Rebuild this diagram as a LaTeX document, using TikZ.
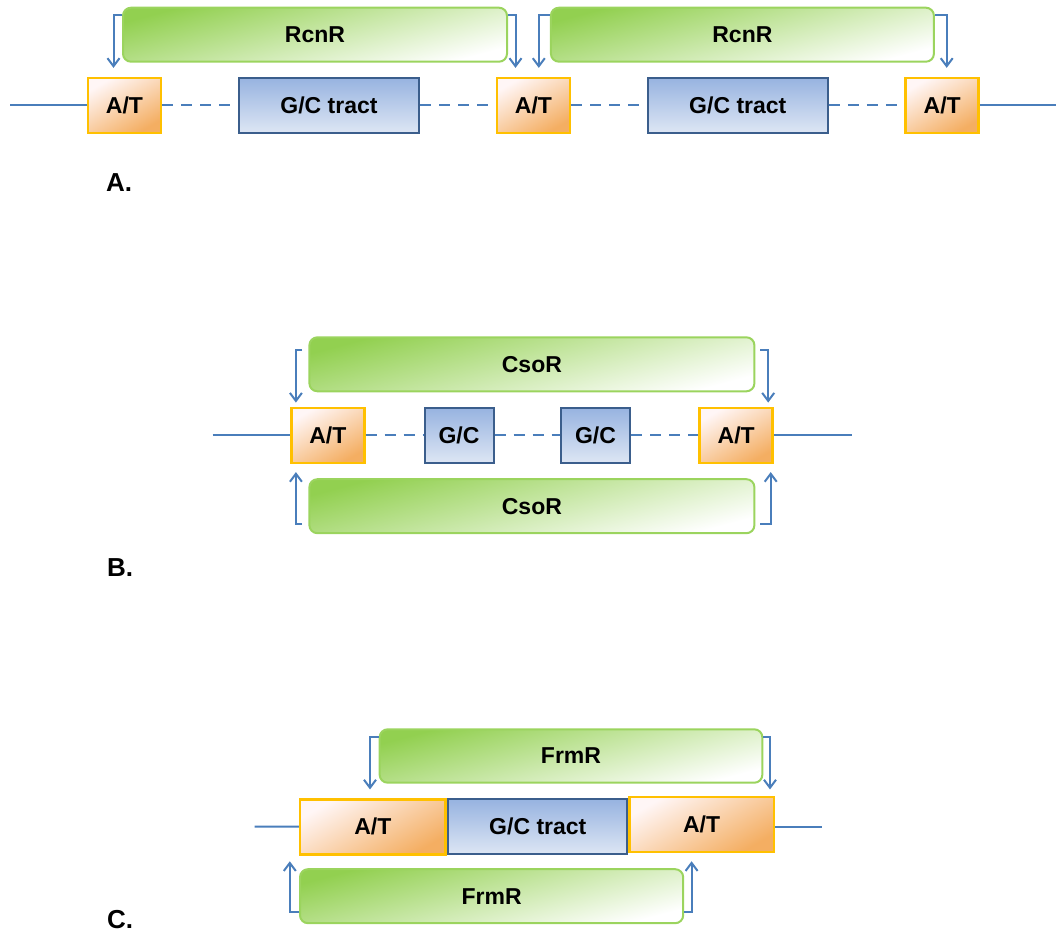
\documentclass[tikz,border=0pt]{standalone}
\usepackage{fontspec}
\setmainfont{Liberation Sans}
\usetikzlibrary{arrows.meta, positioning}

\definecolor{grnfill}{HTML}{92D050}
\definecolor{grnline}{HTML}{9BD45E}
\definecolor{orgfill}{HTML}{F4AE62}
\definecolor{orgpale}{HTML}{FFF6F6}
\definecolor{orgline}{HTML}{FFC000}
\definecolor{blutop}{HTML}{97B3E0}
\definecolor{blubot}{HTML}{DDE6F4}
\definecolor{bluline}{HTML}{3B5E8C}
\definecolor{dnaline}{HTML}{4A7EBB}

\begin{document}
\begin{tikzpicture}[
  x=1pt, y=-1pt,
  every node/.style={font=\fontsize{23}{27}\selectfont\bfseries, inner sep=0pt},
  protein/.style={draw=grnline, line width=2pt, rounded corners=8pt,
    top color=grnfill, bottom color=white, shading angle=15, minimum height=54pt},
  atbox/.style={draw=orgline, line width=2.5pt, top color=orgpale,
    bottom color=orgfill, shading angle=30, minimum width=73pt, minimum height=55pt},
  gcbox/.style={draw=bluline, line width=2pt, top color=blutop,
    bottom color=blubot, minimum height=55pt},
  dna/.style={draw=dnaline, line width=2pt},
  spacer/.style={dna, dash pattern=on 11pt off 8pt},
  bind/.style={draw=dnaline, line width=2pt, -{Straight Barb[length=8pt,width=12pt]}},
  panel/.style={font=\fontsize{26}{30}\selectfont\bfseries}
]
\useasboundingbox (0,0) rectangle (1056,933);

% PANEL A: two RcnR sites
\node[protein, minimum width=384pt] (rcn1a) at (315,34.7) {RcnR};
\node[protein, minimum width=383pt] (rcn2a) at (742.4,34.7) {RcnR};
\node[atbox] (at1a) at (124.5,105.3) {A/T};
\node[gcbox, minimum width=180pt] (gc1a) at (329,105.3) {G/C tract};
\node[atbox] (at2a) at (533.5,105.3) {A/T};
\node[gcbox, minimum width=180pt] (gc2a) at (737.8,105.3) {G/C tract};
\node[atbox] (at3a) at (942.2,105.3) {A/T};
\coordinate (l0a) at (10,105.3);
\coordinate (r0a) at (1056,105.3);

\draw[dna] (l0a) -- (at1a);
\draw[spacer] (at1a) -- (gc1a);
\draw[spacer] (gc1a) -- (at2a);
\draw[spacer] (at2a) -- (gc2a);
\draw[spacer] (gc2a) -- (at3a);
\draw[dna] (at3a) -- (r0a);

\draw[bind] ([yshift=-8.4pt]rcn1a.north west) -| ([xshift=-11pt,yshift=8.7pt]at1a.north);
\draw[bind] ([yshift=-8.4pt]rcn1a.north east) -| ([xshift=-18pt,yshift=8.7pt]at2a.north);
\draw[bind] ([yshift=-8.4pt]rcn2a.north west) -| ([xshift=5.3pt,yshift=8.7pt]at2a.north);
\draw[bind] ([yshift=-8.4pt]rcn2a.north east) -| ([xshift=4.5pt,yshift=8.7pt]at3a.north);

\node[panel] (lbla) at (119,183) {A.};

% PANEL B: CsoR on both strands
\node[protein, minimum width=445pt] (cso1b) at (531.9,364.3) {CsoR};
\node[protein, minimum width=445pt] (cso2b) at (531.9,506.2) {CsoR};
\node[atbox] (at1b) at (327.9,435.3) {A/T};
\node[gcbox, minimum width=69pt] (gc1b) at (459,435.3) {G/C};
\node[gcbox, minimum width=69pt] (gc2b) at (595.5,435.3) {G/C};
\node[atbox] (at2b) at (736.2,435.3) {A/T};
\coordinate (l0b) at (212.6,435.3);
\coordinate (r0b) at (852,435.3);

\draw[dna] (l0b) -- (at1b);
\draw[spacer] (at1b) -- (gc1b);
\draw[spacer] (gc1b) -- (gc2b);
\draw[spacer] (gc2b) -- (at2b);
\draw[dna] (at2b) -- (r0b);

\draw[bind] ([xshift=-6.4pt,yshift=-14pt]cso1b.north west) -| ([xshift=-32pt,yshift=4pt]at1b.north);
\draw[bind] ([xshift=4.7pt,yshift=-14pt]cso1b.north east) -| ([xshift=32pt,yshift=4pt]at2b.north);
\draw[bind] ([xshift=-6.4pt,yshift=10.6pt]cso2b.south west) -| ([xshift=-32pt,yshift=-8pt]at1b.south);
\draw[bind] ([xshift=4.7pt,yshift=10.6pt]cso2b.south east) -| ([xshift=34.5pt,yshift=-8pt]at2b.south);

\node[panel] (lblb) at (120,567.7) {B.};

% PANEL C: FrmR, staggered
\node[protein, minimum width=382.7pt, minimum height=53.4pt] (frm1c) at (571,756) {FrmR};
\node[protein, minimum width=383.2pt] (frm2c) at (491.6,896.2) {FrmR};
\node[atbox, minimum width=145.5pt] (at1c) at (372.8,826.8) {A/T};
\node[gcbox, minimum width=179pt] (gc1c) at (537.8,826.8) {G/C tract};
\node[atbox, minimum width=144.7pt] (at2c) at (701.6,824.7) {A/T};
\coordinate (l0c) at (254.5,826.7);
\coordinate (r0c) at (821.7,826.7);

\draw[dna] (l0c) -- (at1c);
\draw[dna] (at2c.east |- r0c) -- (r0c);

\draw[bind] ([yshift=-9pt]frm1c.north west) -| ([xshift=-2.8pt,yshift=8.6pt]at1c.north);
\draw[bind] ([yshift=-9pt]frm1c.north east) -| ([xshift=68.4pt,yshift=6.5pt]at2c.north);
\draw[bind] ([yshift=12.3pt]frm2c.south west) -| ([xshift=-9pt,yshift=-5.7pt]at1c.south west);
\draw[bind] ([yshift=12.3pt]frm2c.south east) -| ([xshift=-10pt,yshift=-7.8pt]at2c.south);

\node[panel] (lblc) at (120,919.5) {C.};

\end{tikzpicture}
\end{document}
